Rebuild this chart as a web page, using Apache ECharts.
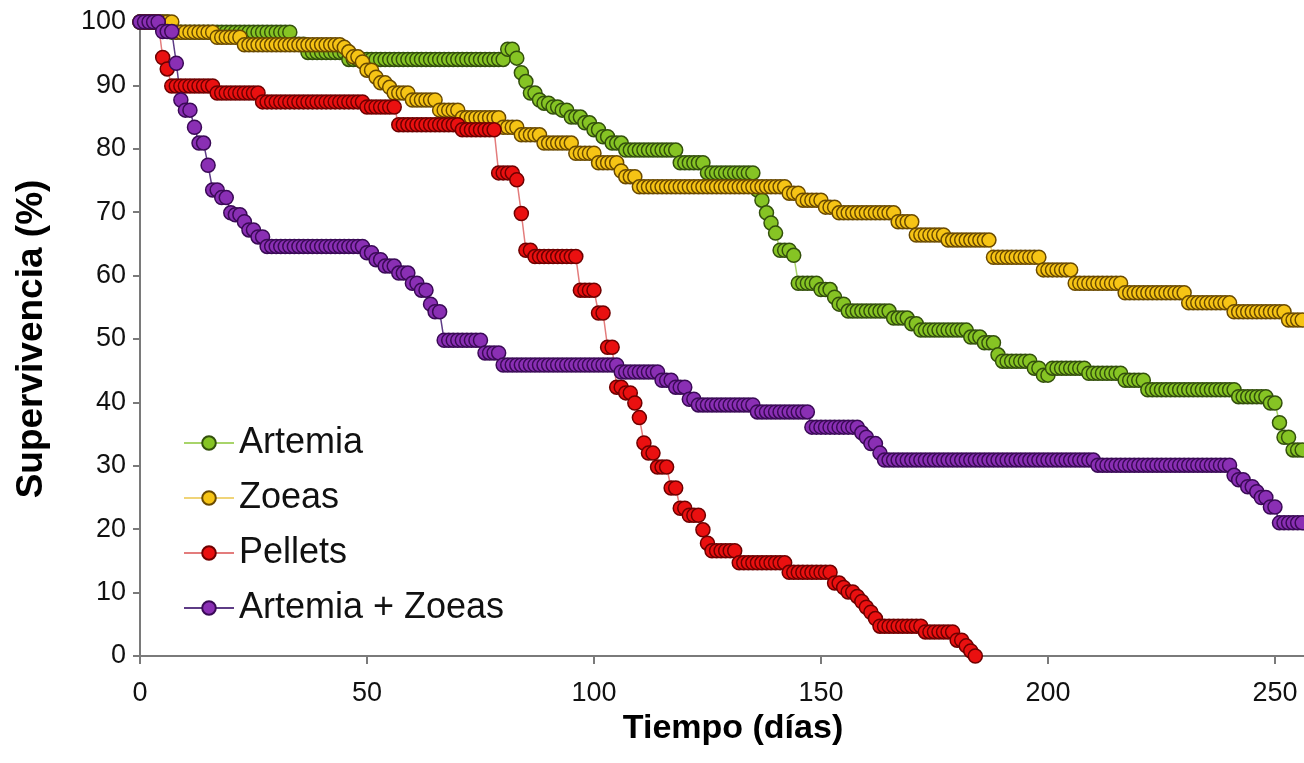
<!DOCTYPE html>
<html>
<head>
<meta charset="utf-8">
<script src="https://cdn.jsdelivr.net/npm/echarts@6/dist/echarts.min.js"></script>
<style>
  html, body { margin: 0; padding: 0; background: #ffffff; }
  #chart { width: 1304px; height: 763px; }
</style>
</head>
<body>
<div id="chart"></div>
<script>
// Daily survival (%) per diet, one value per day starting at day 0.
const artemia = [
  100,100,100,100,100,100,100,98.4,98.4,98.4,
  98.4,98.4,98.4,98.4,98.4,98.4,98.4,98.4,98.4,98.4,
  98.4,98.4,98.4,98.4,98.4,98.4,98.4,98.4,98.4,98.4,
  98.4,98.4,98.4,98.4,96.5,96.5,96.5,95.2,95.2,95.2,
  95.2,95.2,95.2,95.2,95.2,95.2,94.1,94.1,94.1,94.1,
  94.1,94.1,94.1,94.1,94.1,94.1,94.1,94.1,94.1,94.1,
  94.1,94.1,94.1,94.1,94.1,94.1,94.1,94.1,94.1,94.1,
  94.1,94.1,94.1,94.1,94.1,94.1,94.1,94.1,94.1,94.1,
  94.1,95.7,95.7,94.3,92.0,90.6,88.8,88.8,87.7,87.2,
  87.2,86.6,86.6,86.1,86.1,85.0,85.0,85.0,84.1,84.1,
  83.0,83.0,81.9,81.9,80.9,80.9,80.9,79.8,79.8,79.8,
  79.8,79.8,79.8,79.8,79.8,79.8,79.8,79.8,79.8,77.8,
  77.8,77.8,77.8,77.8,77.8,76.2,76.2,76.2,76.2,76.2,
  76.2,76.2,76.2,76.2,76.2,76.2,73.5,71.9,69.9,68.3,
  66.7,64.0,64.0,64.0,63.2,58.8,58.8,58.8,58.8,58.8,
  57.8,57.8,57.8,56.6,55.5,55.5,54.4,54.4,54.4,54.4,
  54.4,54.4,54.4,54.4,54.4,54.4,53.3,53.3,53.3,53.3,
  52.4,52.4,51.4,51.4,51.4,51.4,51.4,51.4,51.4,51.4,
  51.4,51.4,51.4,50.3,50.3,50.3,49.4,49.4,49.4,47.5,
  46.5,46.5,46.5,46.5,46.5,46.5,46.5,45.4,45.4,44.3,
  44.3,45.4,45.4,45.4,45.4,45.4,45.4,45.4,45.4,44.6,
  44.6,44.6,44.6,44.6,44.6,44.6,44.6,43.5,43.5,43.5,
  43.5,43.5,42.0,42.0,42.0,42.0,42.0,42.0,42.0,42.0,
  42.0,42.0,42.0,42.0,42.0,42.0,42.0,42.0,42.0,42.0,
  42.0,42.0,40.9,40.9,40.9,40.9,40.9,40.9,40.9,39.9,
  39.9,36.8,34.5,34.5,32.5,32.5,32.5
];

const zoeas = [
  100,100,100,100,100,100,100,100,98.4,98.4,
  98.4,98.4,98.4,98.4,98.4,98.4,98.4,97.6,97.6,97.6,
  97.6,97.6,97.6,96.4,96.4,96.4,96.4,96.4,96.4,96.4,
  96.4,96.4,96.4,96.4,96.4,96.4,96.4,96.4,96.4,96.4,
  96.4,96.4,96.4,96.4,96.4,96.0,95.3,94.5,94.5,93.7,
  92.4,92.4,91.3,90.4,90.4,89.7,88.8,88.8,88.8,88.8,
  87.7,87.7,87.7,87.7,87.7,87.7,86.1,86.1,86.1,86.1,
  86.1,84.9,84.9,84.9,84.9,84.9,84.9,84.9,84.9,84.9,
  83.4,83.4,83.4,83.4,82.2,82.2,82.2,82.2,82.2,80.9,
  80.9,80.9,80.9,80.9,80.9,80.9,79.3,79.3,79.3,79.3,
  79.3,77.8,77.8,77.8,77.8,77.8,76.5,75.6,75.6,75.6,
  74.0,74.0,74.0,74.0,74.0,74.0,74.0,74.0,74.0,74.0,
  74.0,74.0,74.0,74.0,74.0,74.0,74.0,74.0,74.0,74.0,
  74.0,74.0,74.0,74.0,74.0,74.0,74.0,74.0,74.0,74.0,
  74.0,74.0,74.0,73.0,73.0,73.0,71.9,71.9,71.9,71.9,
  71.9,70.8,70.8,70.8,69.9,69.9,69.9,69.9,69.9,69.9,
  69.9,69.9,69.9,69.9,69.9,69.9,69.9,68.5,68.5,68.5,
  68.5,66.4,66.4,66.4,66.4,66.4,66.4,66.4,65.6,65.6,
  65.6,65.6,65.6,65.6,65.6,65.6,65.6,65.6,62.9,62.9,
  62.9,62.9,62.9,62.9,62.9,62.9,62.9,62.9,62.9,60.9,
  60.9,60.9,60.9,60.9,60.9,60.9,58.8,58.8,58.8,58.8,
  58.8,58.8,58.8,58.8,58.8,58.8,58.8,57.3,57.3,57.3,
  57.3,57.3,57.3,57.3,57.3,57.3,57.3,57.3,57.3,57.3,
  57.3,55.7,55.7,55.7,55.7,55.7,55.7,55.7,55.7,55.7,
  55.7,54.3,54.3,54.3,54.3,54.3,54.3,54.3,54.3,54.3,
  54.3,54.3,54.3,53.0,53.0,53.0,53.0
];

const pellets = [
  100,100,100,100,100,94.4,92.6,89.9,89.9,89.9,
  89.9,89.9,89.9,89.9,89.9,89.9,89.9,88.8,88.8,88.8,
  88.8,88.8,88.8,88.8,88.8,88.8,88.8,87.4,87.4,87.4,
  87.4,87.4,87.4,87.4,87.4,87.4,87.4,87.4,87.4,87.4,
  87.4,87.4,87.4,87.4,87.4,87.4,87.4,87.4,87.4,87.4,
  86.6,86.6,86.6,86.6,86.6,86.6,86.6,83.8,83.8,83.8,
  83.8,83.8,83.8,83.8,83.8,83.8,83.8,83.8,83.8,83.8,
  83.8,83.0,83.0,83.0,83.0,83.0,83.0,83.0,83.0,76.2,
  76.2,76.2,76.2,75.1,69.8,64.0,64.0,63.0,63.0,63.0,
  63.0,63.0,63.0,63.0,63.0,63.0,63.0,57.7,57.7,57.7,
  57.7,54.1,54.1,48.7,48.7,42.4,42.4,41.5,41.5,39.9,
  37.6,33.6,32.0,32.0,29.8,29.8,29.8,26.5,26.5,23.3,
  23.3,22.2,22.2,22.2,19.9,17.8,16.6,16.6,16.6,16.6,
  16.6,16.6,14.7,14.7,14.7,14.7,14.7,14.7,14.7,14.7,
  14.7,14.7,14.7,13.2,13.2,13.2,13.2,13.2,13.2,13.2,
  13.2,13.2,13.2,11.5,11.5,10.8,10.1,10.1,9.4,8.6,
  7.7,6.9,5.9,4.7,4.7,4.7,4.7,4.7,4.7,4.7,
  4.7,4.7,4.7,3.8,3.8,3.8,3.8,3.8,3.8,3.8,
  2.5,2.5,1.6,0.8,0
];

const artemiaZoeas = [
  100,100,100,100,100,98.5,98.5,98.5,93.5,87.7,
  86.1,86.1,83.4,80.9,80.9,77.4,73.5,73.5,72.3,72.3,
  69.9,69.6,69.6,68.5,67.2,67.2,66.1,66.1,64.6,64.6,
  64.6,64.6,64.6,64.6,64.6,64.6,64.6,64.6,64.6,64.6,
  64.6,64.6,64.6,64.6,64.6,64.6,64.6,64.6,64.6,64.6,
  63.6,63.6,62.5,62.5,61.5,61.5,61.5,60.4,60.4,60.4,
  58.8,58.8,57.7,57.7,55.5,54.3,54.3,49.8,49.8,49.8,
  49.8,49.8,49.8,49.8,49.8,49.8,47.8,47.8,47.8,47.8,
  45.9,45.9,45.9,45.9,45.9,45.9,45.9,45.9,45.9,45.9,
  45.9,45.9,45.9,45.9,45.9,45.9,45.9,45.9,45.9,45.9,
  45.9,45.9,45.9,45.9,45.9,45.9,44.8,44.8,44.8,44.8,
  44.8,44.8,44.8,44.8,44.8,43.5,43.5,43.5,42.4,42.4,
  42.4,40.5,40.5,39.6,39.6,39.6,39.6,39.6,39.6,39.6,
  39.6,39.6,39.6,39.6,39.6,39.6,38.5,38.5,38.5,38.5,
  38.5,38.5,38.5,38.5,38.5,38.5,38.5,38.5,36.1,36.1,
  36.1,36.1,36.1,36.1,36.1,36.1,36.1,36.1,36.1,35.2,
  34.5,33.5,33.5,32.0,30.9,30.9,30.9,30.9,30.9,30.9,
  30.9,30.9,30.9,30.9,30.9,30.9,30.9,30.9,30.9,30.9,
  30.9,30.9,30.9,30.9,30.9,30.9,30.9,30.9,30.9,30.9,
  30.9,30.9,30.9,30.9,30.9,30.9,30.9,30.9,30.9,30.9,
  30.9,30.9,30.9,30.9,30.9,30.9,30.9,30.9,30.9,30.9,
  30.9,30.1,30.1,30.1,30.1,30.1,30.1,30.1,30.1,30.1,
  30.1,30.1,30.1,30.1,30.1,30.1,30.1,30.1,30.1,30.1,
  30.1,30.1,30.1,30.1,30.1,30.1,30.1,30.1,30.1,30.1,
  30.1,28.5,27.8,27.8,26.7,26.7,25.9,25.0,25.0,23.5,
  23.5,21.0,21.0,21.0,21.0,21.0,21.0
];

const seriesNames = ['Artemia', 'Zoeas', 'Pellets', 'Artemia + Zoeas'];
const xTickStep = 50;
const yTickStep = 10;

const styles = [
  { fill: '#86c424', edge: '#33500c', line: '#a8d46a' },
  { fill: '#f6c415', edge: '#6a4a00', line: '#f0d478' },
  { fill: '#ea1010', edge: '#6e0000', line: '#e37c7c' },
  { fill: '#8a2fb4', edge: '#3a0a56', line: '#5e3c86' }
];

const valueSets = [artemia, zoeas, pellets, artemiaZoeas];

const series = valueSets.map((vals, k) => ({
  name: seriesNames[k],
  type: 'line',
  data: vals.map((v, day) => [day, v]),
  symbol: 'circle',
  symbolSize: 14,
  showAllSymbol: true,
  itemStyle: { color: styles[k].fill, borderColor: styles[k].edge, borderWidth: 1.5 },
  lineStyle: { color: styles[k].line, width: 1.5 },
  emphasis: { disabled: true },
  animation: false
}));

const chart = echarts.init(document.getElementById('chart'), null, { renderer: 'canvas' });
chart.setOption({
  backgroundColor: '#ffffff',
  animation: false,
  textStyle: { fontFamily: 'Liberation Sans, Arial, sans-serif' },
  grid: { left: 140, right: 0, top: 22, bottom: 107, containLabel: false },
  legend: {
    orient: 'vertical',
    left: 178,
    top: 420,
    itemWidth: 50,
    itemHeight: 17,
    itemGap: 19,
    data: seriesNames,
    textStyle: { fontSize: 36, color: '#111111', fontFamily: 'Liberation Sans, Arial, sans-serif' }
  },
  xAxis: {
    type: 'value',
    min: 0,
    max: 256.4,
    interval: xTickStep,
    name: 'Tiempo (días)',
    nameLocation: 'middle',
    nameGap: 36,
    nameTextStyle: { fontSize: 34, fontWeight: 'bold', color: '#000', padding: [0, 0, 0, 22] },
    axisLine: { lineStyle: { color: '#7a7a7a', width: 2 } },
    axisTick: { length: 8, lineStyle: { color: '#7a7a7a', width: 2 } },
    axisLabel: {
      fontSize: 27, color: '#111', margin: 24, showMaxLabel: false,
      formatter: v => (v % xTickStep === 0 ? String(v) : '')
    },
    splitLine: { show: false }
  },
  yAxis: {
    type: 'value',
    min: 0,
    max: 100,
    interval: yTickStep,
    name: 'Supervivencia (%)',
    nameLocation: 'middle',
    nameRotate: 90,
    nameGap: 90,
    nameTextStyle: { fontSize: 37, fontWeight: 'bold', color: '#000' },
    axisLine: { show: true, lineStyle: { color: '#7a7a7a', width: 2 } },
    axisTick: { show: true, length: 7, lineStyle: { color: '#7a7a7a', width: 2 } },
    axisLabel: { fontSize: 27, color: '#111', margin: 14 },
    splitLine: { show: false }
  },
  series: series
});
</script>
</body>
</html>
